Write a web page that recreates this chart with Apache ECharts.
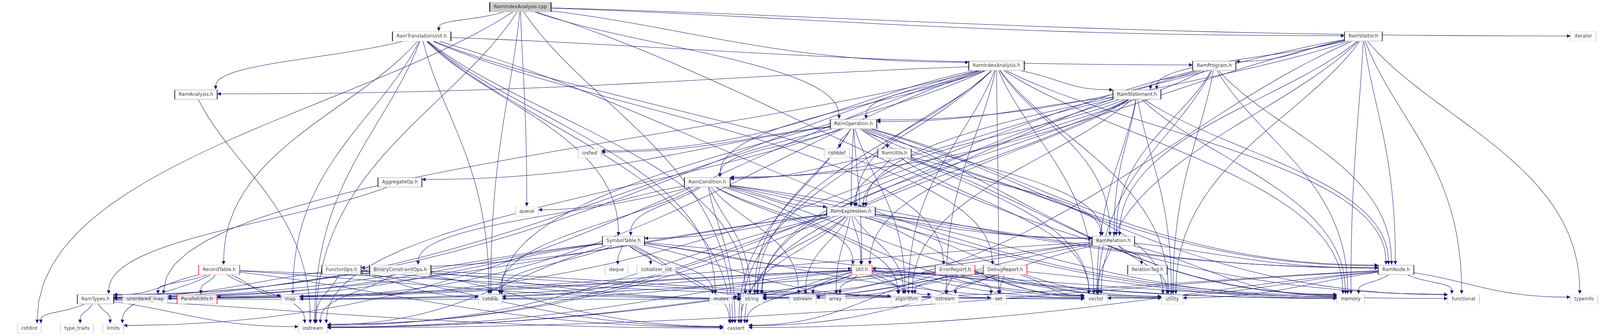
<!DOCTYPE html>
<html>
<head>
<meta charset="utf-8">
<title>RamIndexAnalysis.cpp include graph</title>
<script src="https://cdn.jsdelivr.net/npm/echarts@6/dist/echarts.min.js"></script>
<style>
html, body { margin: 0; padding: 0; background: #fff; overflow: hidden; }
#chart { width: 100vw; height: 100vh; }
</style>
</head>
<body>
<div id="chart"></div>
<script>
// files in the graph
var nodeNames = [
    'RamIndexAnalysis.cpp', 'RamTranslationUnit.h', 'RamVisitor.h', 'iterator',
    'RamIndexAnalysis.h', 'RamProgram.h', 'RamAnalysis.h', 'RamStatement.h',
    'RamOperation.h', 'iosfwd', 'cstddef', 'RamUtils.h',
    'AggregateOp.h', 'RamCondition.h', 'queue', 'RamExpression.h',
    'SymbolTable.h', 'RamRelation.h', 'RecordTable.h', 'FunctorOps.h',
    'BinaryConstraintOps.h', 'deque', 'initializer_list', 'Util.h',
    'ErrorReport.h', 'DebugReport.h', 'RelationTag.h', 'RamNode.h',
    'RamTypes.h', 'unordered_map', 'ParallelUtils.h', 'map',
    'cstdlib', 'mutex', 'string', 'sstream',
    'array', 'algorithm', 'ostream', 'set',
    'vector', 'utility', 'memory', 'functional',
    'typeinfo', 'cstdint', 'type_traits', 'limits',
    'iostream', 'cassert'
];
// root = the file itself, doc = documented header, red = truncated, ext = system header
var nodeKinds = [
    'root', 'doc', 'doc', 'ext',
    'doc', 'doc', 'doc', 'doc',
    'doc', 'ext', 'ext', 'doc',
    'doc', 'doc', 'ext', 'doc',
    'doc', 'doc', 'red', 'doc',
    'doc', 'ext', 'ext', 'red',
    'red', 'red', 'doc', 'doc',
    'doc', 'ext', 'red', 'ext',
    'ext', 'ext', 'ext', 'ext',
    'ext', 'ext', 'ext', 'ext',
    'ext', 'ext', 'ext', 'ext',
    'ext', 'ext', 'ext', 'ext',
    'ext', 'ext'
];

// layout (box centres, px of the 4409x859 image)
var layoutX = [
    1434, 1162, 3757, 4363,
    2746, 3346, 540, 3133,
    2352, 1625, 2306, 2465,
    1102, 1949, 1452, 2345,
    1718, 3068, 604, 941,
    1103, 1699, 1809, 2375,
    2632, 2770, 3162, 3847,
    263, 400, 543, 800,
    1351, 1987, 2072, 2212,
    2302, 2498, 2604, 2752,
    3020, 3230, 3722, 4033,
    4365, 81, 212, 312,
    862, 2028
];
var layoutY = [
    18, 93, 93, 93,
    168, 168, 242, 242,
    317, 392, 392, 392,
    466, 466, 541, 541,
    616, 616, 690, 690,
    690, 690, 690, 690,
    690, 690, 690, 690,
    765, 765, 765, 765,
    765, 765, 765, 765,
    765, 765, 765, 765,
    765, 765, 765, 765,
    765, 840, 840, 840,
    840, 840
];

// who includes whom
var includes = [
    ['RamIndexAnalysis.cpp', ['RamIndexAnalysis.h', 'RamTranslationUnit.h', 'RamVisitor.h', 'RamOperation.h',
        'iterator', 'queue', 'cstdint', 'iostream', 'cstdlib', 'cassert', 'functional']],
    ['RamTranslationUnit.h', ['RamAnalysis.h', 'RamProgram.h', 'SymbolTable.h', 'ErrorReport.h', 'DebugReport.h',
        'RecordTable.h', 'map', 'memory', 'mutex', 'string', 'cassert', 'iostream', 'cstdlib']],
    ['RamIndexAnalysis.h', ['RamAnalysis.h', 'RamCondition.h', 'RamExpression.h', 'RamNode.h', 'RamOperation.h',
        'RamRelation.h', 'RamStatement.h', 'RamTypes.h', 'iosfwd', 'algorithm', 'cassert', 'cstdlib', 'limits',
        'map', 'unordered_map', 'memory', 'ostream', 'set', 'string', 'utility', 'vector']],
    ['RamVisitor.h', ['RamProgram.h', 'RamStatement.h', 'RamOperation.h', 'RamCondition.h', 'RamExpression.h',
        'RamRelation.h', 'RamNode.h', 'typeinfo', 'functional', 'memory', 'vector', 'utility', 'string']],
    ['RamProgram.h', ['RamStatement.h', 'RamRelation.h', 'RamNode.h', 'map', 'memory', 'vector', 'utility',
        'iostream', 'string']],
    ['RamAnalysis.h', ['iostream']],
    ['RamStatement.h', ['RamOperation.h', 'RamCondition.h', 'RamExpression.h', 'RamRelation.h', 'RamNode.h',
        'Util.h', 'vector', 'utility', 'memory', 'string', 'algorithm', 'cassert', 'iostream']],
    ['RamOperation.h', ['iosfwd', 'cstddef', 'RamUtils.h', 'RamCondition.h', 'RamExpression.h', 'RamRelation.h',
        'RamNode.h', 'AggregateOp.h', 'Util.h', 'RamTypes.h', 'string', 'vector', 'memory', 'utility',
        'cassert', 'iostream', 'algorithm', 'functional']],
    ['RamUtils.h', ['RamCondition.h', 'RamExpression.h', 'RamRelation.h', 'RamNode.h', 'memory', 'vector']],
    ['AggregateOp.h', ['RamTypes.h']],
    ['RamCondition.h', ['RamExpression.h', 'SymbolTable.h', 'BinaryConstraintOps.h', 'RamRelation.h', 'RamNode.h',
        'Util.h', 'queue', 'cstdlib', 'string', 'vector', 'sstream', 'algorithm', 'memory', 'utility', 'cassert']],
    ['RamExpression.h', ['SymbolTable.h', 'FunctorOps.h', 'RamRelation.h', 'RamNode.h', 'Util.h', 'RamTypes.h',
        'string', 'sstream', 'array', 'algorithm', 'memory', 'vector', 'utility', 'cstdlib', 'cassert', 'iostream']],
    ['SymbolTable.h', ['deque', 'initializer_list', 'Util.h', 'RamTypes.h', 'ParallelUtils.h', 'mutex', 'string',
        'cassert', 'iostream', 'unordered_map', 'vector', 'cstdlib', 'algorithm', 'memory']],
    ['RamRelation.h', ['RelationTag.h', 'RamNode.h', 'RamTypes.h', 'Util.h', 'vector', 'utility', 'memory',
        'string', 'iostream', 'cassert']],
    ['RecordTable.h', ['RamTypes.h', 'ParallelUtils.h', 'unordered_map', 'map', 'iostream', 'limits', 'cassert',
        'vector', 'string']],
    ['FunctorOps.h', ['RamTypes.h', 'cstdlib', 'iostream', 'string', 'vector', 'cassert']],
    ['BinaryConstraintOps.h', ['RamTypes.h', 'iostream', 'cassert', 'vector', 'string']],
    ['RamTypes.h', ['cstdint', 'type_traits', 'limits', 'iostream', 'string', 'cassert']],
    ['Util.h', ['RamTypes.h', 'map', 'unordered_map', 'cstdlib', 'cassert', 'iostream', 'string', 'sstream',
        'array', 'algorithm', 'ostream', 'set', 'vector', 'utility', 'memory', 'mutex', 'functional']],
    ['ErrorReport.h', ['algorithm', 'ostream', 'set', 'string', 'vector', 'cassert', 'iostream', 'utility']],
    ['DebugReport.h', ['sstream', 'string', 'vector', 'set', 'ostream', 'map', 'memory']],
    ['RamNode.h', ['typeinfo', 'functional', 'memory', 'vector', 'utility', 'cassert', 'iostream', 'string']]
];

var IMG_W = 4409, IMG_H = 859;
var FONT_FAMILY = 'DejaVu Sans';
var FONT_SIZE = 13;
var BOX_H = 26;
var ARROW = 10;
var EDGE_COLOR = '#191970';

var kindStyle = {
    root: { color: '#bfbfbf', borderColor: '#000000' },
    doc:  { color: '#ffffff', borderColor: '#000000' },
    red:  { color: '#ffffff', borderColor: '#ff0000' },
    ext:  { color: '#ffffff', borderColor: '#bfbfbf' }
};

var dom = document.getElementById('chart');
// screen px per image px, so the whole graph always fits the window
var S = dom.clientWidth / IMG_W;

// box width (image px) from the label text
var measure = document.createElement('canvas').getContext('2d');
measure.font = FONT_SIZE + 'px "' + FONT_FAMILY + '"';
function boxWidth(name) {
    return Math.round(measure.measureText(name).width) + 22;
}

var nodeIndex = {};
nodeNames.forEach(function (n, i) { nodeIndex[n] = i; });

var nodeData = nodeNames.map(function (n, i) {
    var st = kindStyle[nodeKinds[i]];
    return {
        name: n,
        value: [layoutX[i], layoutY[i]],
        symbolSize: [boxWidth(n) * S, BOX_H * S],
        itemStyle: { color: st.color, borderColor: st.borderColor, borderWidth: 1 }
    };
});

// where the centre-to-centre line leaves a box; side = true when it hits a vertical side
function clipBox(i, dx, dy) {
    var hw = boxWidth(nodeNames[i]) / 2, hh = BOX_H / 2;
    var tx = dx === 0 ? Infinity : hw / Math.abs(dx);
    var ty = dy === 0 ? Infinity : hh / Math.abs(dy);
    return { f: Math.min(tx, ty), side: tx < ty };
}

// spline-like edge: straight out of the source, bending into the target
var edgeData = [];
var arrowData = [];
includes.forEach(function (inc) {
    var s = nodeIndex[inc[0]];
    inc[1].forEach(function (tn) {
        var t = nodeIndex[tn];
        var x1 = layoutX[s], y1 = layoutY[s], x2 = layoutX[t], y2 = layoutY[t];
        var dx = x2 - x1, dy = y2 - y1;
        var len = Math.sqrt(dx * dx + dy * dy);
        var cs = clipBox(s, dx, dy), ct = clipBox(t, -dx, -dy);
        var p0 = [x1 + dx * cs.f, y1 + dy * cs.f];
        var tip = [x2 - dx * ct.f, y2 - dy * ct.f];
        // direction the edge has when it enters the target
        var ex, ey;
        if (ct.side) { ex = dx > 0 ? 1 : -1; ey = 0; } else { ex = 0; ey = dy > 0 ? 1 : -1; }
        var p3 = [tip[0] - ex * ARROW, tip[1] - ey * ARROW];
        var ux = dx / len, uy = dy / len;
        var k1 = len * 0.3;
        var k2 = ct.side ? Math.abs(p3[0] - p0[0]) * 0.45 : Math.abs(p3[1] - p0[1]) * 0.5;
        var c1 = [p0[0] + ux * k1, p0[1] + uy * k1];
        var c2 = [p3[0] - ex * k2, p3[1] - ey * k2];
        var pts = [];
        for (var k = 0; k <= 24; k++) {
            var u = k / 24, v = 1 - u;
            pts.push([
                v * v * v * p0[0] + 3 * v * v * u * c1[0] + 3 * v * u * u * c2[0] + u * u * u * p3[0],
                v * v * v * p0[1] + 3 * v * v * u * c1[1] + 3 * v * u * u * c2[1] + u * u * u * p3[1]
            ]);
        }
        edgeData.push({ coords: pts });
        arrowData.push({ coords: [p3, [tip[0] - ex * ARROW / 2, tip[1] - ey * ARROW / 2]] });
    });
});

var myChart = echarts.init(dom, null, { renderer: 'canvas' });
var option = {
    backgroundColor: '#ffffff',
    animation: false,
    grid: { left: 0, right: 0, top: 0, bottom: 0 },
    xAxis: { type: 'value', min: 0, max: IMG_W, show: false },
    yAxis: { type: 'value', min: 0, max: IMG_H, inverse: true, show: false },
    series: [
        {
            type: 'lines',
            coordinateSystem: 'cartesian2d',
            polyline: true,
            z: 1,
            lineStyle: { color: EDGE_COLOR, width: 1.1 * S, opacity: 1 },
            data: edgeData
        },
        {
            type: 'lines',
            coordinateSystem: 'cartesian2d',
            z: 2,
            symbol: ['none', 'triangle'],
            symbolSize: ARROW * S,
            lineStyle: { color: EDGE_COLOR, width: 1.1 * S, opacity: 1 },
            data: arrowData
        },
        {
            type: 'scatter',
            z: 5,
            symbol: 'rect',
            label: {
                show: true,
                position: 'inside',
                formatter: '{b}',
                color: '#000000',
                fontFamily: FONT_FAMILY,
                fontSize: FONT_SIZE * S
            },
            emphasis: { disabled: true },
            data: nodeData
        }
    ]
};
myChart.setOption(option);
</script>
</body>
</html>
